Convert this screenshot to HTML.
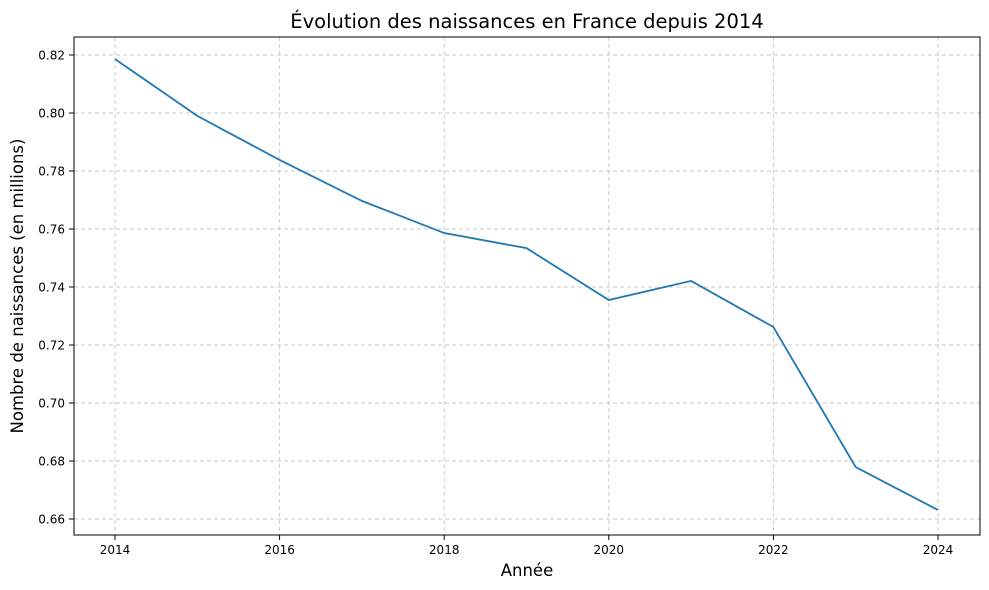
<!DOCTYPE html>
<html><head><meta charset="utf-8"><style>
body{margin:0;background:#fff;}
svg{display:block;font-family:"DejaVu Sans","Liberation Sans",sans-serif;}
</style></head><body>
<svg id="chart" width="989" height="590">
<text x="527" y="28" text-anchor="middle" font-size="19.5" fill="#000">Évolution des naissances en France depuis 2014</text>
<text x="527" y="576" text-anchor="middle" font-size="16.5" fill="#000">Année</text>
<text transform="translate(23,286) rotate(-90)" text-anchor="middle" font-size="16.5" fill="#000">Nombre de naissances (en millions)</text>
<g id="grid"></g><g id="ticks"></g><g id="plot"></g>
<rect x="74" y="37" width="906" height="498" fill="none" stroke="#000" stroke-width="1"/>
</svg>
<script>
const years = [2014,2015,2016,2017,2018,2019,2020,2021,2022,2023,2024];
const births = [0.8186,0.7990,0.7838,0.7697,0.7586,0.7534,0.7355,0.7421,0.7262,0.6779,0.6631];
const xTicks = [2014,2016,2018,2020,2022,2024];
const yTicks = [0.66,0.68,0.70,0.72,0.74,0.76,0.78,0.80,0.82];
const NS="http://www.w3.org/2000/svg";
const xs = v => 115 + (v-2014)*82.3;
const ys = v => 55 + (0.82-v)*2900;
function mk(tag, attrs, parent){const e=document.createElementNS(NS,tag);for(const k in attrs)e.setAttribute(k,attrs[k]);parent.appendChild(e);return e;}
const grid=document.getElementById('grid'), ticks=document.getElementById('ticks'), plot=document.getElementById('plot');
xTicks.forEach(t=>{
  const x=xs(t);
  const g=mk('line',{x1:x,x2:x,y1:37,y2:535,stroke:'#c8c8c8','stroke-dasharray':'4,3','stroke-width':0.9},grid);
  
  
  const tk=mk('line',{x1:x,x2:x,y1:535,y2:540,stroke:'#000'},ticks);
  
  
  const tx=mk('text',{x:x,y:554,'text-anchor':'middle','font-size':12},ticks);
  tx.textContent=t;
  
  
});
yTicks.forEach(t=>{
  const y=ys(t);
  const g=mk('line',{x1:74,x2:980,y1:y,y2:y,stroke:'#c8c8c8','stroke-dasharray':'4,3','stroke-width':0.9},grid);
  
  
  const tk=mk('line',{x1:69,x2:74,y1:y,y2:y,stroke:'#000'},ticks);
  
  
  const tx=mk('text',{x:65,y:y+4.5,'text-anchor':'end','font-size':12},ticks);
  tx.textContent=t.toFixed(2);
  
  
});
const pts=years.map((y,i)=>xs(y)+','+ys(births[i])).join(' ');
const line=mk('polyline',{points:pts,fill:'none',stroke:'#1f77b4','stroke-width':1.8},plot);


</script>
</body></html>
